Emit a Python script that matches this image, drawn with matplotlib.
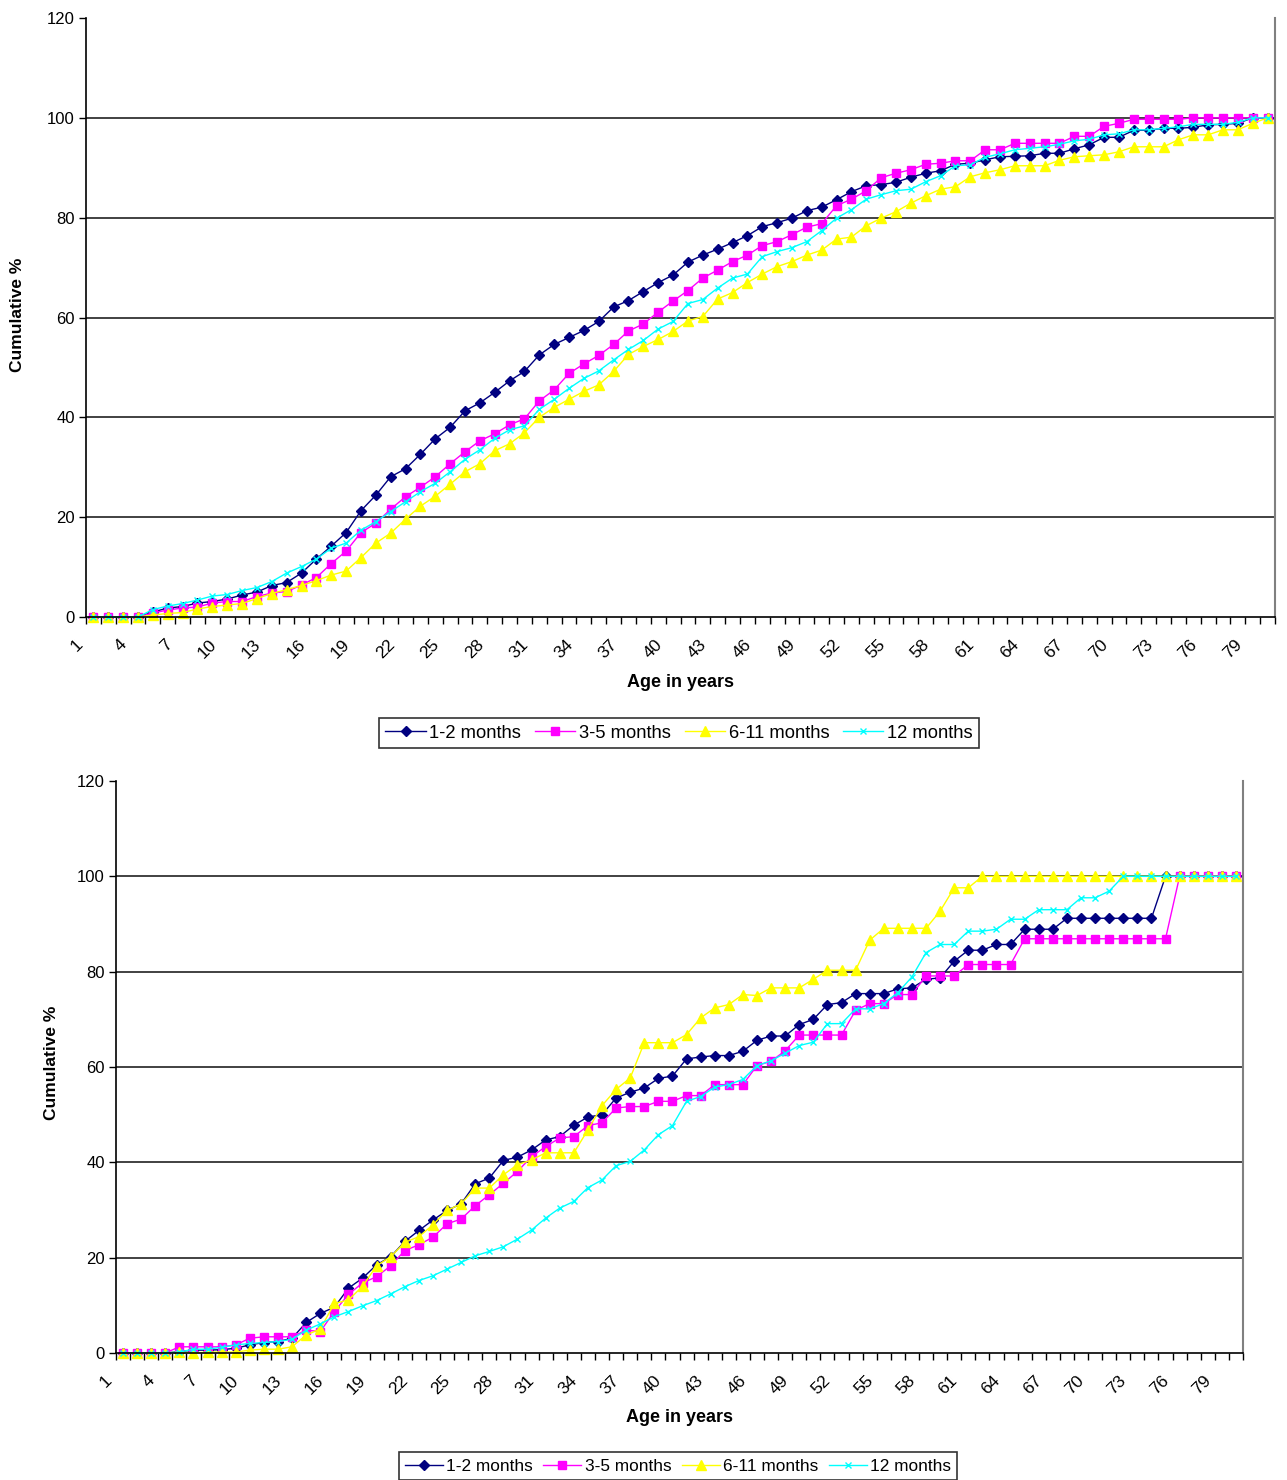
import matplotlib
matplotlib.use("Agg")
import matplotlib.pyplot as plt
import matplotlib.transforms as mtransforms

# Age categories on the x axis (1 .. 80), labelled every third year
AGES = list(range(1, 81))
LABEL_AGES = list(range(1, 80, 3))
SERIES_NAMES = ["1-2 months", "3-5 months", "6-11 months", "12 months"]

# Upper chart: cumulative % by age
TOP_1_2 = [0, 0, 0, 0, 1.0, 1.8, 2.1, 2.8, 3.1, 3.6, 4.4, 5.0, 6.3, 6.9, 8.8, 11.6,
           14.2, 16.9, 21.3, 24.4, 28.1, 29.7, 32.6, 35.7, 38.0, 41.3, 42.9, 45.0,
           47.3, 49.2, 52.5, 54.6, 56.0, 57.4, 59.2, 62.1, 63.4, 65.2, 67.0, 68.5,
           71.1, 72.5, 73.7, 75.0, 76.4, 78.2, 79.0, 79.9, 81.4, 82.1, 83.6, 85.2,
           86.4, 86.6, 87.1, 88.1, 88.9, 89.4, 90.7, 90.9, 91.6, 92.2, 92.3, 92.4,
           92.9, 92.9, 93.8, 94.6, 96.1, 96.1, 97.5, 97.5, 97.9, 97.9, 98.1, 98.6,
           98.7, 98.9, 100, 100]
TOP_3_5 = [0, 0, 0, 0, 0.8, 1.4, 1.8, 2.0, 2.8, 3.1, 3.1, 4.1, 4.8, 5.1, 6.4, 7.9,
           10.7, 13.2, 16.9, 18.8, 21.6, 24.1, 26.0, 28.1, 30.7, 33.1, 35.3, 36.7,
           38.5, 39.7, 43.3, 45.5, 48.8, 50.7, 52.4, 54.6, 57.3, 58.7, 61.1, 63.3,
           65.4, 67.9, 69.5, 71.2, 72.5, 74.4, 75.2, 76.6, 78.1, 78.8, 82.4, 83.7,
           85.4, 88.0, 88.9, 89.6, 90.7, 90.9, 91.4, 91.4, 93.6, 93.6, 94.9, 94.9,
           94.9, 94.9, 96.3, 96.3, 98.3, 98.9, 99.7, 99.7, 99.7, 99.7, 100, 100,
           100, 100, 100, 100]
TOP_6_11 = [0, 0, 0, 0, 0.4, 0.7, 0.9, 1.6, 2.1, 2.4, 2.7, 3.7, 4.7, 5.5, 6.3, 7.3,
            8.4, 9.2, 11.9, 14.8, 16.8, 19.6, 22.2, 24.2, 26.6, 29.1, 30.7, 33.3,
            34.7, 36.9, 40.0, 42.0, 43.6, 45.2, 46.5, 49.2, 52.6, 54.2, 55.6, 57.2,
            59.3, 60.2, 63.7, 65.0, 67.0, 68.7, 70.2, 71.2, 72.5, 73.5, 75.7, 76.1,
            78.4, 79.9, 81.2, 82.9, 84.4, 85.7, 86.2, 88.2, 89.0, 89.6, 90.4, 90.4,
            90.4, 91.5, 92.2, 92.4, 92.6, 93.2, 94.2, 94.2, 94.2, 95.6, 96.6, 96.6,
            97.6, 97.6, 98.9, 100]
TOP_12 = [0, 0, 0, 0, 1.5, 2.2, 2.7, 3.4, 4.2, 4.5, 5.3, 5.9, 7.1, 8.8, 10.1, 11.6,
          13.8, 14.8, 17.4, 19.1, 21.1, 23.1, 25.1, 26.8, 29.1, 31.6, 33.5, 35.8,
          37.5, 38.3, 41.6, 43.6, 45.8, 47.8, 49.3, 51.5, 53.6, 55.4, 57.7, 59.2,
          62.8, 63.6, 65.9, 67.9, 68.7, 72.2, 73.2, 74.0, 75.2, 77.4, 79.9, 81.6,
          83.7, 84.6, 85.4, 85.7, 87.2, 88.4, 90.4, 90.6, 92.1, 92.8, 93.6, 93.9,
          94.2, 94.7, 95.4, 95.7, 96.6, 96.8, 97.6, 97.6, 97.9, 98.2, 98.7, 98.7,
          98.7, 99.1, 100, 100]

# Lower chart: cumulative % by age
BOTTOM_1_2 = [0, 0, 0, 0, 0.3, 0.6, 0.6, 0.7, 1.0, 1.7, 2.2, 2.4, 3.1, 6.4, 8.3, 9.6,
              13.6, 15.7, 18.5, 20.2, 23.4, 25.7, 27.9, 29.9, 31.3, 35.5, 36.7, 40.4,
              41.1, 42.6, 44.7, 45.4, 47.8, 49.5, 50.0, 53.5, 54.7, 55.6, 57.6, 58.1,
              61.7, 62.1, 62.4, 62.4, 63.3, 65.6, 66.5, 66.5, 68.9, 70.0, 73.1, 73.5,
              75.4, 75.4, 75.4, 76.4, 76.6, 78.4, 78.7, 82.2, 84.5, 84.5, 85.7, 85.7,
              88.9, 88.9, 88.9, 91.2, 91.2, 91.2, 91.2, 91.2, 91.2, 91.2, 100, 100,
              100, 100, 100, 100]
BOTTOM_3_5 = [0, 0, 0, 0, 1.3, 1.3, 1.3, 1.3, 1.7, 3.1, 3.4, 3.4, 3.4, 4.8, 4.5, 8.7,
              12.3, 14.7, 16.0, 18.3, 21.5, 22.7, 24.3, 27.1, 28.1, 30.9, 33.2, 35.6,
              38.1, 41.2, 43.3, 45.1, 45.4, 47.7, 48.3, 51.4, 51.7, 51.7, 52.8, 52.8,
              54.0, 54.0, 56.3, 56.3, 56.3, 60.3, 61.2, 63.4, 66.7, 66.7, 66.7, 66.7,
              71.9, 73.3, 73.3, 75.2, 75.2, 79.1, 79.1, 79.1, 81.5, 81.5, 81.5, 81.5,
              86.9, 86.9, 86.9, 86.9, 86.9, 86.9, 86.9, 86.9, 86.9, 86.9, 86.9, 100,
              100, 100, 100, 100]
BOTTOM_6_11 = [0, 0, 0, 0, 0.2, 0, 0.2, 0.2, 0.2, 0.6, 0.8, 0.8, 1.3, 3.8, 5.0, 10.4,
               11.1, 14.0, 18.3, 20.2, 23.2, 24.4, 26.9, 29.9, 31.3, 34.6, 34.6, 37.4,
               39.5, 40.5, 42.0, 42.0, 42.0, 46.8, 51.9, 55.3, 57.7, 65.1, 65.1, 65.1,
               66.8, 70.3, 72.4, 73.1, 75.2, 75.0, 76.6, 76.6, 76.6, 78.4, 80.3, 80.3,
               80.3, 86.6, 89.1, 89.1, 89.1, 89.1, 92.7, 97.6, 97.6, 100, 100, 100,
               100, 100, 100, 100, 100, 100, 100, 100, 100, 100, 100, 100,
               100, 100, 100, 100]
BOTTOM_12 = [0, 0, 0, 0, 0.2, 0.8, 0.8, 1.2, 1.7, 2.0, 2.2, 2.4, 2.9, 4.8, 6.1, 7.6,
             8.7, 9.9, 11.0, 12.4, 13.9, 15.2, 16.2, 17.6, 19.0, 20.4, 21.3, 22.3,
             23.9, 25.8, 28.3, 30.4, 31.8, 34.7, 36.3, 39.3, 40.2, 42.6, 45.8, 47.7,
             52.8, 53.8, 55.8, 56.3, 57.4, 60.3, 61.3, 62.9, 64.5, 65.2, 69.1, 69.1,
             72.2, 72.2, 73.3, 75.6, 78.9, 84.0, 85.7, 85.7, 88.5, 88.5, 88.9, 91.0,
             91.0, 93.0, 93.0, 93.0, 95.5, 95.5, 96.9, 100, 100, 100, 100, 100,
             100, 100, 100, 100]

# Excel-like series styles: (colour, marker, marker size)
STYLES = [("#000080", "D", 5.0),
          ("#FF00FF", "s", 5.5),
          ("#FFFF00", "^", 6.5),
          ("#00FFFF", "x", 5.0)]

FONT = ["Liberation Sans", "DejaVu Sans"]
TITLE_FONT = ["Liberation Sans Narrow", "Liberation Sans", "DejaVu Sans"]

W, H = 1287, 1480


def px_axes(left, top, right, bottom):
    """Convert a pixel box of the reference into figure fractions."""
    return [left / W, 1 - bottom / H, (right - left) / W, (bottom - top) / H]


def draw_panel(fig, box, series, label_shift_px):
    """Draw one Excel-style cumulative line chart into a pixel box."""
    ax = fig.add_axes(px_axes(*box))

    for values, name, (color, marker, ms) in zip(series, SERIES_NAMES, STYLES):
        ax.plot(AGES, values, color=color, lw=1.0, marker=marker, ms=ms,
                mec=color, mfc=color, mew=1.0, label=name, clip_on=False)

    ax.set_xlim(0.5, 80.5)
    ax.set_ylim(0, 120)

    # major ticks mark the category boundaries, minor ticks carry the labels
    ax.set_xticks([a - 0.5 for a in AGES] + [80.5])
    ax.set_xticklabels([])
    ax.set_xticks(LABEL_AGES, minor=True)
    ax.set_xticklabels([str(a) for a in LABEL_AGES], minor=True, rotation=45,
                       ha="right", fontsize=12.5, family=FONT)
    ax.tick_params(axis="x", which="major", direction="out", length=5, width=1)
    ax.tick_params(axis="x", which="minor", length=0, pad=14)
    shift = mtransforms.ScaledTranslation(-label_shift_px / 100, 0, fig.dpi_scale_trans)
    for lbl in ax.get_xticklabels(minor=True):
        lbl.set_transform(lbl.get_transform() + shift)

    ax.set_yticks(range(0, 121, 20))
    ax.set_yticklabels([str(v) for v in range(0, 121, 20)], fontsize=12, family=FONT)
    ax.tick_params(axis="y", direction="out", length=5, width=1, pad=3)

    for v in range(20, 101, 20):
        ax.axhline(v, color="#333333", lw=1.3, zorder=0.5)

    ax.spines["top"].set_visible(False)
    ax.spines["right"].set_color("#808080")
    ax.spines["right"].set_linewidth(1.5)
    ax.spines["left"].set_linewidth(1.2)
    ax.spines["bottom"].set_linewidth(1.2)

    ax.set_xlabel("Age in years", fontsize=13, fontweight="bold", family=TITLE_FONT)
    ax.set_ylabel("Cumulative %", fontsize=12.5, fontweight="bold", family=TITLE_FONT)
    return ax


def add_legend(fig, ax, center_px, size, spacing):
    handles, labels = ax.get_legend_handles_labels()
    leg = fig.legend(handles, labels, loc="center",
                     bbox_to_anchor=(center_px[0] / W, 1 - center_px[1] / H),
                     ncol=4, frameon=True, fancybox=False,
                     handlelength=2.2, handletextpad=0.2, columnspacing=spacing,
                     borderpad=0.35, borderaxespad=0, prop={"family": FONT, "size": size})
    leg.get_frame().set_edgecolor("black")
    leg.get_frame().set_linewidth(1.2)
    return leg


def main():
    fig = plt.figure(figsize=(W / 100, H / 100), dpi=100)

    top = draw_panel(fig, (86, 18, 1275, 617),
                     [TOP_1_2, TOP_3_5, TOP_6_11, TOP_12], label_shift_px=8)
    top.xaxis.set_label_coords(0.4996, -0.110)
    top.xaxis.label.set_va("center")
    top.yaxis.set_label_coords(-0.0572, 0.504)
    top.yaxis.label.set_va("center")
    add_legend(fig, top, (679, 733), size=13.2, spacing=0.75)

    bottom = draw_panel(fig, (116, 781, 1243, 1353),
                        [BOTTOM_1_2, BOTTOM_3_5, BOTTOM_6_11, BOTTOM_12], label_shift_px=8)
    bottom.xaxis.set_label_coords(0.5004, -0.112)
    bottom.xaxis.label.set_va("center")
    bottom.yaxis.set_label_coords(-0.0568, 0.507)
    bottom.yaxis.label.set_va("center")
    add_legend(fig, bottom, (678, 1466), size=12.4, spacing=0.6)

    fig.savefig("out.png", dpi=100)


if __name__ == "__main__":
    main()
